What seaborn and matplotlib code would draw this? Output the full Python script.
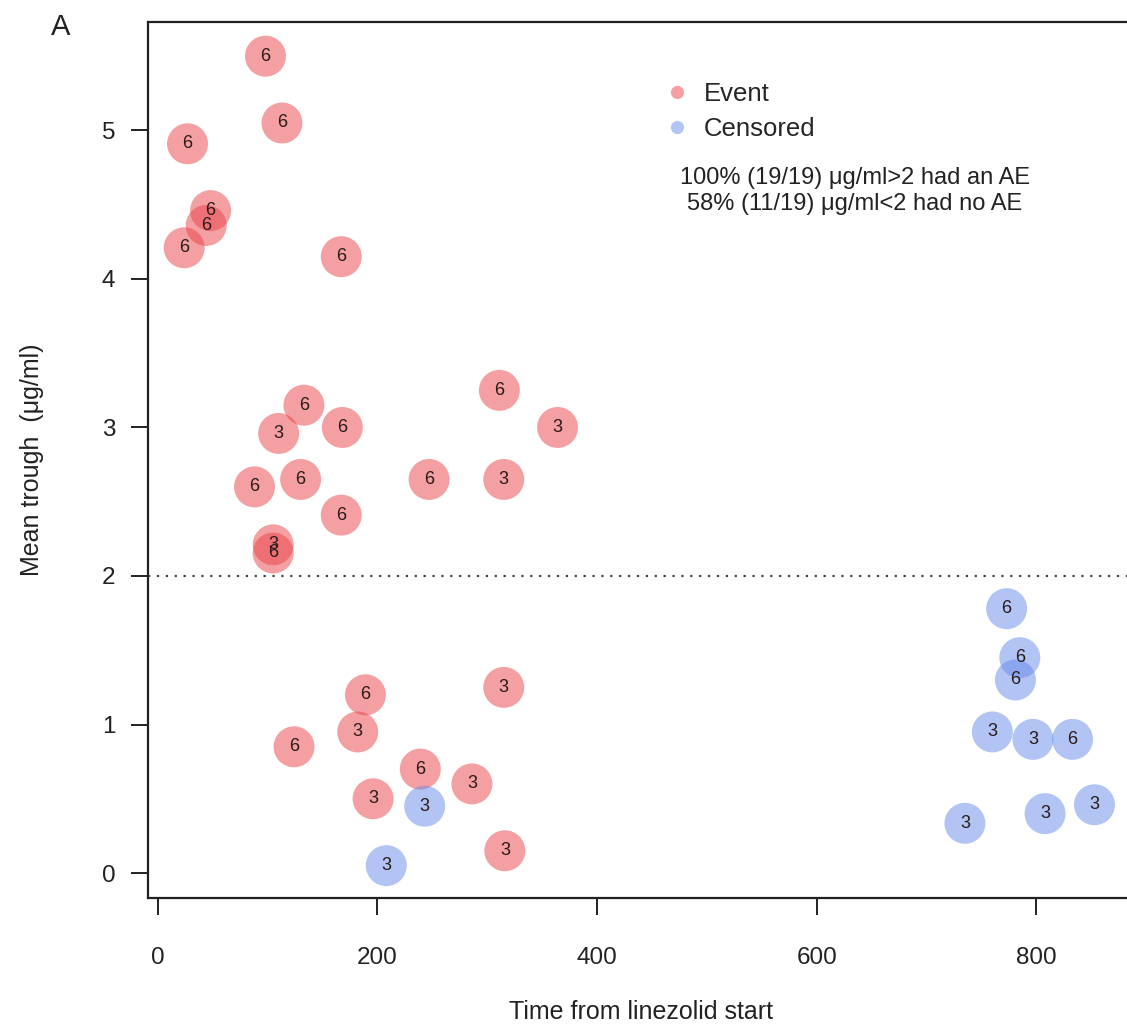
import numpy as np
import pandas as pd
import matplotlib
matplotlib.use("Agg")
import matplotlib.pyplot as plt
from matplotlib.lines import Line2D
import seaborn as sns

# values
time_days = [98, 113, 27, 48, 44, 24, 167, 133, 110, 168, 88, 130, 167, 105, 105,
             311, 247, 315, 364, 189, 182, 124, 315, 239, 196, 286, 316,
             243, 208, 773, 785, 781, 760, 797, 833, 735, 808, 853]
mean_trough = [5.50, 5.05, 4.91, 4.46, 4.36, 4.21, 4.15, 3.15, 2.96, 3.00, 2.60, 2.65, 2.41, 2.21, 2.155,
               3.25, 2.65, 2.65, 3.00, 1.20, 0.95, 0.85, 1.25, 0.70, 0.50, 0.60, 0.15,
               0.45, 0.05, 1.78, 1.45, 1.30, 0.95, 0.90, 0.90, 0.335, 0.40, 0.46]
dose_label = [6, 6, 6, 6, 6, 6, 6, 6, 3, 6, 6, 6, 6, 3, 6,
              6, 6, 3, 3, 6, 3, 6, 3, 6, 3, 3, 3,
              3, 3, 6, 6, 6, 3, 3, 6, 3, 3, 3]
status = ["Event"] * 27 + ["Censored"] * 11

x_ticks = [0, 200, 400, 600, 800]
y_ticks = [0, 1, 2, 3, 4, 5]
note_lines = ["100% (19/19) \u03bcg/ml>2 had an AE", "58% (11/19) \u03bcg/ml<2 had no AE"]

df = pd.DataFrame({"time": time_days, "trough": mean_trough,
                   "dose": dose_label, "status": status})

sns.set_style("white")
plt.rcParams["font.family"] = ["Liberation Sans", "DejaVu Sans"]

colors = {"Event": (0.92, 0.26, 0.28), "Censored": (0.40, 0.54, 0.92)}

fig = plt.figure(figsize=(11.27, 10.24), dpi=100)
ax = fig.add_axes([148 / 1127, 1 - 898 / 1024, (1134 - 148) / 1127, (898 - 22) / 1024])

sns.scatterplot(data=df, x="time", y="trough", hue="status", palette=colors,
                s=870, alpha=0.5, edgecolor="none", linewidth=0, legend=False, ax=ax)

# dose number written in each circle
for _, r in df.iterrows():
    ax.text(r["time"], r["trough"], str(r["dose"]), ha="center", va="center",
            fontsize=13, color="#2a1a1a", zorder=5)

ax.axhline(2, color="#444444", lw=1.6, ls=(0, (1, 3)), zorder=1)

ax.set_xlim(-9, 889)
ax.set_ylim(-0.168, 5.73)
ax.set_xticks(x_ticks)
ax.set_yticks(y_ticks)
ax.tick_params(axis="both", direction="out", length=12.5, width=1.4, color="#222222",
               labelsize=17.5, labelcolor="#222222", left=True, bottom=True)
ax.tick_params(axis="x", pad=23)
ax.tick_params(axis="y", pad=11)
for sp in ax.spines.values():
    sp.set_color("#222222")
    sp.set_linewidth(1.6)

ax.set_xlabel("Time from linezolid start", fontsize=18, color="#222222")
ax.set_ylabel("Mean trough  (\u03bcg/ml)", fontsize=18, color="#222222")
ax.xaxis.set_label_coords(0.5, -0.117)
ax.yaxis.set_label_coords(-0.105, 0.5)

handles = [Line2D([], [], ls="", marker="o", markersize=9.5, markeredgewidth=0,
                  markerfacecolor=colors[k], alpha=0.5, label=k) for k in ["Event", "Censored"]]
fig.legend(handles=handles, loc="upper left", bbox_to_anchor=(664 / 1127, 1 - 82 / 1024),
           frameon=False, fontsize=18.5, handlelength=1.0, handletextpad=0.56,
           labelspacing=0.44, borderpad=0, borderaxespad=0)

ax.text((855 - 148) / 986, (898 - 191) / 876, "\n".join(note_lines), transform=ax.transAxes,
        ha="center", va="center", multialignment="center", fontsize=17,
        linespacing=1.25, color="#222222")

fig.text(61 / 1127, 1 - 27 / 1024, "A", fontsize=21, ha="center", va="center", color="#222222")

fig.savefig("out.png", dpi=100)
